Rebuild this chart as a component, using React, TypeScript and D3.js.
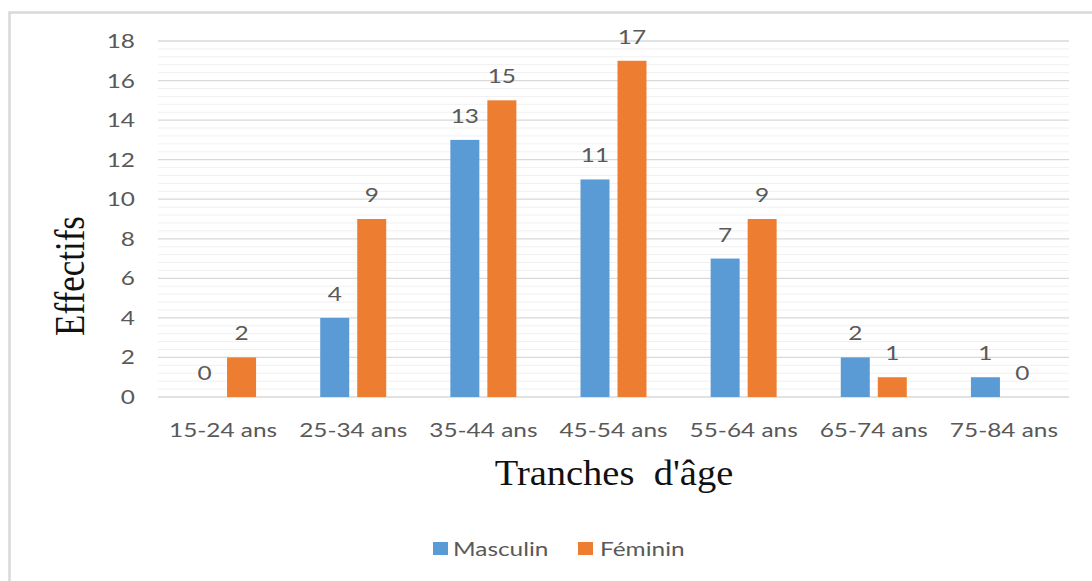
import React from "react";
import * as d3 from "d3";

const categories = ["15-24 ans", "25-34 ans", "35-44 ans", "45-54 ans", "55-64 ans", "65-74 ans", "75-84 ans"];
const masculin = [0, 4, 13, 11, 7, 2, 1];
const feminin = [2, 9, 15, 17, 9, 1, 0];
const yTicks = [0, 2, 4, 6, 8, 10, 12, 14, 16, 18];
const seriesNames = ["Masculin", "Féminin"];
const colors = ["#5B9BD5", "#ED7D31"];

const W = 1092;
const H = 581;
const left = 158;
const right = 1069;
const top = 41;
const bottom = 397;
const SX = 1.22;
const SANS = "Lato, 'Open Sans', sans-serif";
const SERIF = "'Liberation Serif', 'DejaVu Serif', serif";

function SText(props: { x: number; y: number; anchor?: string; size: number; fill: string; family: string; children: any; sx?: number }) {
  const { x, y, anchor = "middle", size, fill, family, children, sx = SX } = props;
  return (
    <g transform={`translate(${x},${y}) scale(${sx},1)`}>
      <text x={0} y={0} textAnchor={anchor} fontSize={size} fill={fill} fontFamily={family} style={{ whiteSpace: "pre" }}>
        {children}
      </text>
    </g>
  );
}

export default function App() {
  const x = d3.scaleBand<string>().domain(categories).range([left, right]).paddingInner(0).paddingOuter(0);
  const y = d3.scaleLinear().domain([0, 18]).range([bottom, top]);
  const minor = d3.range(0, 18.001, 0.4).filter((v) => Math.abs(v / 2 - Math.round(v / 2)) > 0.01);
  const barW = 29;
  const gap = 8;
  const series = [masculin, feminin];

  return (
    <svg width={W} height={H} style={{ position: "absolute", left: 0, top: 0, background: "#fff" }}>
      <rect x={0} y={0} width={W} height={H} fill="#fff" />
      <rect x={9.5} y={12.5} width={1200} height={700} fill="none" stroke="#d9d9d9" strokeWidth={2.5} />
      {minor.map((v, i) => (
        <line key={"m" + i} x1={left} x2={right} y1={y(v)} y2={y(v)} stroke="#f0f0f0" strokeWidth={1} />
      ))}
      {yTicks.map((v) => (
        <line key={"g" + v} x1={left} x2={right} y1={y(v)} y2={y(v)} stroke="#d9d9d9" strokeWidth={1.3} />
      ))}
      {yTicks.map((v) => (
        <SText key={"t" + v} x={135} y={y(v) + 7} anchor="end" size={20} fill="#595959" family={SANS}>
          {v}
        </SText>
      ))}
      {categories.map((c, ci) => {
        const cx = (x(c) as number) + x.bandwidth() / 2;
        return (
          <g key={c}>
            {series.map((s, si) => {
              const bx = si === 0 ? cx - gap / 2 - barW : cx + gap / 2;
              const v = s[ci];
              return (
                <g key={si}>
                  {v > 0 && <rect x={bx} y={y(v)} width={barW} height={y(0) - y(v)} fill={colors[si]} />}
                  <SText x={bx + barW / 2} y={y(v) - 17} size={20} fill="#595959" family={SANS}>
                    {v}
                  </SText>
                </g>
              );
            })}
            <SText x={cx} y={437} size={20} fill="#595959" family={SANS}>
              {c}
            </SText>
          </g>
        );
      })}
      <g transform={`translate(84,276) scale(1.2,1) rotate(-90)`}>
        <text x={0} y={0} textAnchor="middle" fontSize={35} fill="#111" fontFamily={SERIF}>
          Effectifs
        </text>
      </g>
      <SText x={614} y={485} size={35} fill="#111" family={SERIF} sx={1.1}>
        {"Tranches  d'âge"}
      </SText>
      <rect x={433} y={542} width={15} height={13} fill={colors[0]} />
      <SText x={453} y={556} anchor="start" size={20} fill="#595959" family={SANS}>
        {seriesNames[0]}
      </SText>
      <rect x={578} y={542} width={15} height={13} fill={colors[1]} />
      <SText x={600} y={556} anchor="start" size={20} fill="#595959" family={SANS}>
        {seriesNames[1]}
      </SText>
    </svg>
  );
}
